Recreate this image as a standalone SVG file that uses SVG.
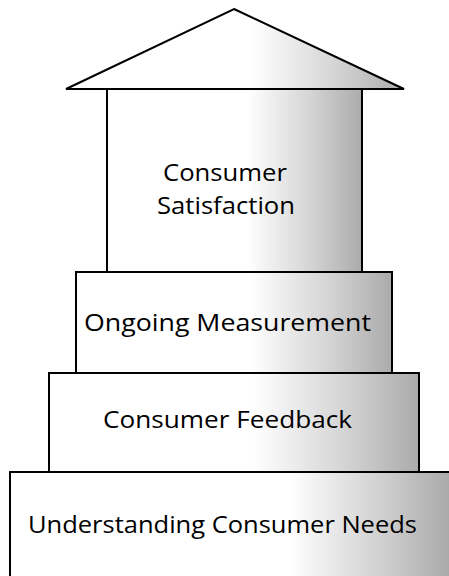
<svg xmlns="http://www.w3.org/2000/svg" width="449" height="576" viewBox="0 0 449 576">
  <defs>
    <!-- soft grey shading toward the right of each block -->
    <linearGradient id="shade" x1="0" y1="0" x2="1" y2="0">
      <stop offset="0" stop-color="#ffffff"/>
      <stop offset="0.55" stop-color="#ffffff"/>
      <stop offset="0.8" stop-color="#d4d4d4"/>
      <stop offset="1" stop-color="#ababab"/>
    </linearGradient>
    <linearGradient id="shadeBase" gradientUnits="userSpaceOnUse" x1="10" y1="0" x2="460" y2="0">
      <stop offset="0" stop-color="#ffffff"/>
      <stop offset="0.62" stop-color="#ffffff"/>
      <stop offset="0.85" stop-color="#cacaca"/>
      <stop offset="1" stop-color="#a4a4a4"/>
    </linearGradient>
  </defs>
  <style>
    .block { fill: url(#shade); stroke: #000; stroke-width: 2; }
    .label { font-family: "Open Sans", "Noto Sans", sans-serif; font-size: 24px; fill: #000; }
  </style>

  <rect width="449" height="576" fill="#ffffff"/>

  <g id="roof">
    <polygon class="block" stroke-width="1.6" stroke-linejoin="miter" points="234,9 404,89 66,89"/>
  </g>

  <g id="consumer-satisfaction">
    <rect class="block" stroke-width="1.7" x="107" y="89" width="255" height="183"/>
    <text class="label" x="163" y="181" textLength="124" lengthAdjust="spacingAndGlyphs">Consumer</text>
    <text class="label" x="157" y="214" textLength="138" lengthAdjust="spacingAndGlyphs">Satisfaction</text>
  </g>

  <g id="ongoing-measurement">
    <rect class="block" x="76" y="272" width="316" height="101"/>
    <text class="label" x="84" y="331" textLength="287" lengthAdjust="spacingAndGlyphs">Ongoing Measurement</text>
  </g>

  <g id="consumer-feedback">
    <rect class="block" x="49" y="373" width="370" height="99"/>
    <text class="label" x="103" y="428" textLength="249" lengthAdjust="spacingAndGlyphs">Consumer Feedback</text>
  </g>

  <g id="understanding-consumer-needs">
    <rect class="block" style="fill:url(#shadeBase)" x="10" y="472" width="450" height="120"/>
    <text class="label" x="28" y="533" textLength="389" lengthAdjust="spacingAndGlyphs">Understanding Consumer Needs</text>
  </g>
</svg>
